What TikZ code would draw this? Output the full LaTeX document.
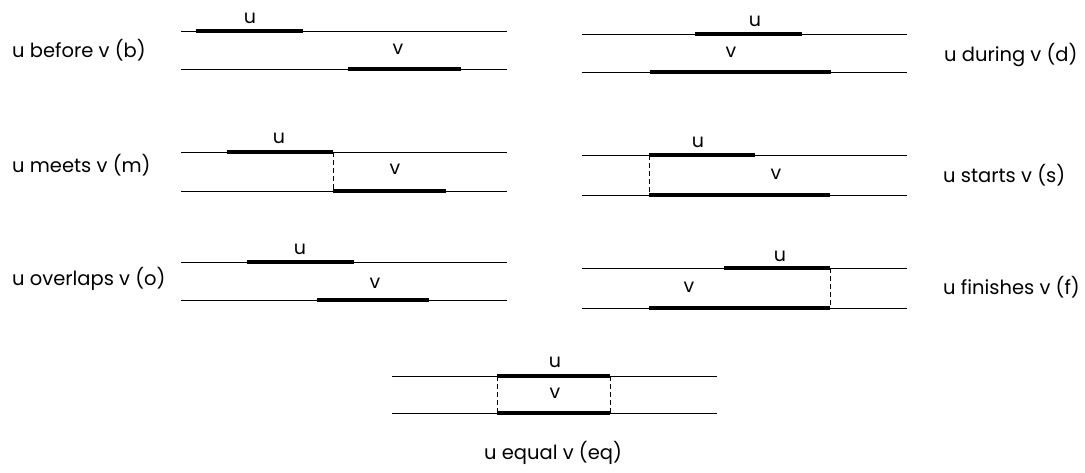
\documentclass[tikz,border=0pt]{standalone}
\usepackage{fontspec}
\setmainfont{Poppins}
\begin{document}
\begin{tikzpicture}[x=1pt,y=-1pt,
  thin line/.style={line width=1pt},
  thick bar/.style={line width=3.8pt},
  link/.style={line width=1pt, dash pattern=on 5pt off 3pt},
  lbl/.style={font=\fontsize{19}{22}\selectfont, inner sep=0pt},
  captxt/.style={font=\fontsize{19.5}{22}\selectfont, inner sep=0pt, anchor=west}]
\useasboundingbox (0,0) rectangle (1085,472);
% ---------- before (b)
\node[captxt] (tb) at (12,50) {u before v (b)};
\coordinate (b1a) at (181,31); \coordinate (b1b) at (507,31);
\coordinate (b2a) at (181,69); \coordinate (b2b) at (507,69);
\coordinate (bua) at (196,31); \coordinate (bub) at (303,31);
\coordinate (bva) at (348,69); \coordinate (bvb) at (461,69);
\draw[thin line] (b1a) -- (b1b); \draw[thin line] (b2a) -- (b2b);
\draw[thick bar] (bua) -- (bub); \draw[thick bar] (bva) -- (bvb);
\node[lbl] (bu) at (250,18) {u}; \node[lbl] (bv) at (398,49) {v};
% ---------- during (d)
\node[captxt] (td) at (944,55) {u during v (d)};
\coordinate (d1a) at (582,34); \coordinate (d1b) at (907,34);
\coordinate (d2a) at (582,72); \coordinate (d2b) at (907,72);
\coordinate (dua) at (695,34); \coordinate (dub) at (802,34);
\coordinate (dva) at (650,72); \coordinate (dvb) at (831,72);
\draw[thin line] (d1a) -- (d1b); \draw[thin line] (d2a) -- (d2b);
\draw[thick bar] (dua) -- (dub); \draw[thick bar] (dva) -- (dvb);
\node[lbl] (du) at (755,21) {u}; \node[lbl] (dv) at (731,52) {v};
% ---------- meets (m)
\node[captxt] (tm) at (12,165) {u meets v (m)};
\coordinate (m1a) at (181,152); \coordinate (m1b) at (507,152);
\coordinate (m2a) at (181,191); \coordinate (m2b) at (507,191);
\coordinate (mua) at (227,152); \coordinate (mub) at (333,152);
\coordinate (mva) at (333,191); \coordinate (mvb) at (446,191);
\draw[thin line] (m1a) -- (m1b); \draw[thin line] (m2a) -- (m2b);
\draw[thick bar] (mua) -- (mub); \draw[thick bar] (mva) -- (mvb);
\draw[link] (mub) -- (mva);
\node[lbl] (mu) at (279,138) {u}; \node[lbl] (mv) at (395,169) {v};
% ---------- starts (s)
\node[captxt] (ts) at (943,175) {u starts v (s)};
\coordinate (s1a) at (582,155); \coordinate (s1b) at (907,155);
\coordinate (s2a) at (582,195); \coordinate (s2b) at (907,195);
\coordinate (sua) at (649,155); \coordinate (sub) at (755,155);
\coordinate (sva) at (649,195); \coordinate (svb) at (830,195);
\draw[thin line] (s1a) -- (s1b); \draw[thin line] (s2a) -- (s2b);
\draw[thick bar] (sua) -- (sub); \draw[thick bar] (sva) -- (svb);
\draw[link] (sua) -- (sva);
\node[lbl] (su) at (698,142) {u}; \node[lbl] (sv) at (776,174) {v};
% ---------- overlaps (o)
\node[captxt] (to) at (12,279) {u overlaps v (o)};
\coordinate (o1a) at (181,262); \coordinate (o1b) at (507,262);
\coordinate (o2a) at (181,300); \coordinate (o2b) at (507,300);
\coordinate (oua) at (247,262); \coordinate (oub) at (354,262);
\coordinate (ova) at (317,300); \coordinate (ovb) at (429,300);
\draw[thin line] (o1a) -- (o1b); \draw[thin line] (o2a) -- (o2b);
\draw[thick bar] (oua) -- (oub); \draw[thick bar] (ova) -- (ovb);
\node[lbl] (ou) at (300,249) {u}; \node[lbl] (ov) at (375,283) {v};
% ---------- finishes (f)
\node[captxt] (tf) at (943,287) {u finishes v (f)};
\coordinate (f1a) at (582,268); \coordinate (f1b) at (907,268);
\coordinate (f2a) at (582,308); \coordinate (f2b) at (907,308);
\coordinate (fua) at (724,268); \coordinate (fub) at (830,268);
\coordinate (fva) at (649,308); \coordinate (fvb) at (830,308);
\draw[thin line] (f1a) -- (f1b); \draw[thin line] (f2a) -- (f2b);
\draw[thick bar] (fua) -- (fub); \draw[thick bar] (fva) -- (fvb);
\draw[link] (fub) -- (fvb);
\node[lbl] (fu) at (780,256) {u}; \node[lbl] (fv) at (689,287) {v};
% ---------- equal (eq)
\node[captxt, anchor=center] (te) at (553,453) {u equal v (eq)};
\coordinate (e1a) at (392,376); \coordinate (e1b) at (717,376);
\coordinate (e2a) at (392,413); \coordinate (e2b) at (717,413);
\coordinate (eua) at (497,376); \coordinate (eub) at (610,376);
\coordinate (eva) at (497,413); \coordinate (evb) at (610,413);
\draw[thin line] (e1a) -- (e1b); \draw[thin line] (e2a) -- (e2b);
\draw[thick bar] (eua) -- (eub); \draw[thick bar] (eva) -- (evb);
\draw[link] (eua) -- (eva); \draw[link] (eub) -- (evb);
\node[lbl] (eu) at (555,362) {u}; \node[lbl] (ev) at (555,393) {v};
\end{tikzpicture}
\end{document}
